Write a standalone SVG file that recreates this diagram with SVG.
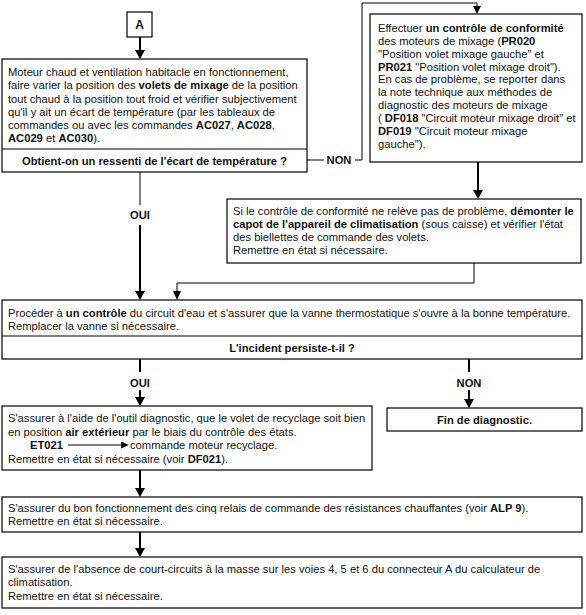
<svg xmlns="http://www.w3.org/2000/svg" width="586" height="615" viewBox="0 0 586 615">
<style>
.box{fill:#fff;stroke:#000;stroke-width:1.2}
.t{font-family:"Liberation Sans",Arial,sans-serif;font-size:11.2px;fill:#111}
.b{font-weight:bold}
.c{text-anchor:middle}
.thin{stroke:#000;stroke-width:1;fill:none}
.thick{stroke:#000;stroke-width:2;fill:none}
.ah{fill:#000}
</style>
<rect width="586" height="615" fill="#fff"/>
<g id="connectors">
  <line class="thick" x1="140" y1="37" x2="140" y2="51"/>
  <polygon class="ah" points="135,50 145,50 140,59"/>
  <line class="thin" x1="140" y1="172" x2="140" y2="205"/>
  <text class="t b c" x="140" y="219">OUI</text>
  <line class="thick" x1="140" y1="225" x2="140" y2="292"/>
  <polygon class="ah" points="135,291 145,291 140,300"/>
  <polyline class="thin" points="474,263 474,283 177,283 177,292"/>
  <polygon class="ah" points="173,291 181,291 177,300"/>
  <line class="thin" x1="307" y1="160" x2="324" y2="160"/>
  <text class="t b c" x="339" y="164">NON</text>
  <polyline class="thin" points="355,160 362,160 362,3 477,3 477,7"/>
  <polygon class="ah" points="473,6 481,6 477,14"/>
  <line class="thick" x1="478" y1="162" x2="478" y2="191"/>
  <polygon class="ah" points="473,190 483,190 478,199"/>
  <line class="thick" x1="140" y1="359" x2="140" y2="372"/>
  <text class="t b c" x="140" y="387">OUI</text>
  <line class="thick" x1="140" y1="390" x2="140" y2="398"/>
  <polygon class="ah" points="135,397 145,397 140,406"/>
  <line class="thick" x1="469" y1="359" x2="469" y2="372"/>
  <text class="t b c" x="469" y="387">NON</text>
  <line class="thick" x1="469" y1="390" x2="469" y2="400"/>
  <polygon class="ah" points="464,399 474,399 469,408"/>
  <line class="thick" x1="140" y1="470" x2="140" y2="489"/>
  <polygon class="ah" points="135,488 145,488 140,497"/>
  <line class="thick" x1="140" y1="532" x2="140" y2="549"/>
  <polygon class="ah" points="135,548 145,548 140,557"/>
</g>
<g id="nodeA">
  <rect class="box" x="127" y="12" width="25" height="25"/>
  <text class="t b c" x="139.5" y="29" style="font-size:12px">A</text>
</g>
<g id="node1">
  <rect class="box" x="2" y="59" width="305" height="113"/>
  <line class="thin" x1="2" y1="149" x2="307" y2="149"/>
  <text class="t" x="8" y="76">Moteur chaud et ventilation habitacle en fonctionnement,</text>
  <text class="t" x="8" y="89">faire varier la position des <tspan class="b">volets de mixage</tspan> de la position</text>
  <text class="t" x="8" y="102.5">tout chaud à la position tout froid et vérifier subjectivement</text>
  <text class="t" x="8" y="115.5">qu'il y ait un écart de température (par les tableaux de</text>
  <text class="t" x="8" y="129">commandes ou avec les commandes <tspan class="b">AC027</tspan>, <tspan class="b">AC028</tspan>,</text>
  <text class="t" x="8" y="142"><tspan class="b">AC029</tspan> et <tspan class="b">AC030</tspan>).</text>
  <text class="t b c" x="154.5" y="165">Obtient-on un ressenti de l'écart de température ?</text>
</g>
<g id="node2">
  <rect class="box" x="370" y="14" width="212" height="148"/>
  <text class="t" x="378" y="32">Effectuer <tspan class="b">un contrôle de conformité</tspan></text>
  <text class="t" x="378" y="45">des moteurs de mixage (<tspan class="b">PR020</tspan></text>
  <text class="t" x="378" y="57.7">"Position volet mixage gauche" et</text>
  <text class="t" x="378" y="70.5"><tspan class="b">PR021</tspan> "Position volet mixage droit").</text>
  <text class="t" x="378" y="83.4">En cas de problème, se reporter dans</text>
  <text class="t" x="378" y="96.2">la note technique aux méthodes de</text>
  <text class="t" x="378" y="109.1">diagnostic des moteurs de mixage</text>
  <text class="t" x="378" y="122">( <tspan class="b">DF018</tspan> "Circuit moteur mixage droit" et</text>
  <text class="t" x="378" y="134.8"><tspan class="b">DF019</tspan> "Circuit moteur mixage</text>
  <text class="t" x="378" y="147.6">gauche").</text>
</g>
<g id="node3">
  <rect class="box" x="227" y="199" width="354" height="64"/>
  <text class="t" x="233" y="215">Si le contrôle de conformité ne relève pas de problème, <tspan class="b">démonter le</tspan></text>
  <text class="t" x="233" y="228"><tspan class="b">capot de l'appareil de climatisation</tspan> (sous caisse) et vérifier l'état</text>
  <text class="t" x="233" y="241">des biellettes de commande des volets.</text>
  <text class="t" x="233" y="254">Remettre en état si nécessaire.</text>
</g>
<g id="node4">
  <rect class="box" x="2" y="300" width="580" height="59"/>
  <line class="thin" x1="2" y1="336" x2="582" y2="336"/>
  <text class="t" x="8" y="317">Procéder à  <tspan class="b">un contrôle</tspan> du circuit d'eau et s'assurer que la vanne thermostatique s'ouvre à la bonne température.</text>
  <text class="t" x="8" y="330">Remplacer la vanne si nécessaire.</text>
  <text class="t b c" x="292" y="352">L'incident persiste-t-il ?</text>
</g>
<g id="node5">
  <rect class="box" x="2" y="406" width="370" height="64"/>
  <text class="t" x="8" y="422">S'assurer à l'aide de l'outil diagnostic, que le volet de recyclage soit bien</text>
  <text class="t" x="8" y="435.5">en position <tspan class="b">air extérieur</tspan> par le biais du contrôle des états.</text>
  <text class="t b" x="30" y="449">ET021</text>
  <line class="thin" x1="68" y1="445" x2="122" y2="445"/>
  <polygon class="ah" points="121,441.5 129,445 121,448.5"/>
  <text class="t" x="130" y="449">commande moteur recyclage.</text>
  <text class="t" x="8" y="462.5">Remettre en état si nécessaire (voir <tspan class="b">DF021</tspan>).</text>
</g>
<g id="nodeFin">
  <rect class="box" x="387" y="408" width="195" height="23"/>
  <text class="t b c" x="484.5" y="424">Fin de diagnostic.</text>
</g>
<g id="node6">
  <rect class="box" x="2" y="497" width="580" height="35"/>
  <text class="t" x="8" y="512">S'assurer du bon fonctionnement des cinq relais de commande des résistances chauffantes (voir <tspan class="b">ALP 9</tspan>).</text>
  <text class="t" x="8" y="525">Remettre en état si nécessaire.</text>
</g>
<g id="node7">
  <rect class="box" x="2" y="557" width="580" height="51"/>
  <text class="t" x="8" y="573">S'assurer de l'absence de court-circuits à la masse sur les voies 4, 5 et 6 du connecteur A du calculateur de</text>
  <text class="t" x="8" y="586">climatisation.</text>
  <text class="t" x="8" y="600">Remettre en état si nécessaire.</text>
</g>
</svg>
